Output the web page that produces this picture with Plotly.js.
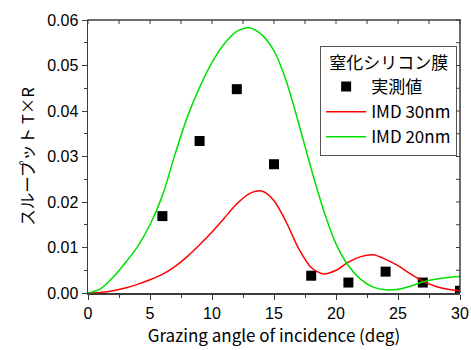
<!DOCTYPE html>
<html>
<head>
<meta charset="utf-8">
<script src="https://cdn.plot.ly/plotly-3.0.1.min.js"></script>
<style>html,body{margin:0;padding:0;background:#fff;}#wrap{position:relative;width:471px;height:350px;}#chart{width:471px;height:350px;}#frame{position:absolute;left:0;top:0;pointer-events:none;}</style>
</head>
<body>
<div id="wrap"><div id="chart"></div><svg id="frame" width="471" height="350" xmlns="http://www.w3.org/2000/svg"></svg></div>
<script>
// Measured data (実測値)
const measX = [6, 9, 12, 15, 18, 21, 24, 27, 30];
const measY = [0.0169, 0.0334, 0.0448, 0.0283, 0.0038, 0.0023, 0.0047, 0.0023, 0.0005];

// Simulation curves
const angle = [0,1,2,3,4,5,6,7,8,9,10,11,12,13,14,15,16,17,18,19,20,21,22,23,24,25,26,27,28,29,30];
const imd30 = [0,0.0001,0.0005,0.0011,0.0019,0.0029,0.0041,0.0058,0.0080,0.0106,0.0134,0.0165,0.0196,0.0218,0.0224,0.0203,0.0155,0.0097,0.0056,0.0042,0.0050,0.0068,0.0080,0.0084,0.0074,0.0060,0.0042,0.0026,0.0015,0.0008,0.0005];
const imd20 = [0,0.0009,0.0034,0.0066,0.0102,0.0150,0.0214,0.0303,0.0386,0.0452,0.0507,0.0548,0.0575,0.0583,0.0568,0.0532,0.0465,0.0372,0.0273,0.0182,0.0108,0.0060,0.0030,0.0013,0.0007,0.0008,0.0015,0.0024,0.0030,0.0034,0.0036];

// frame tick values (top / right, pointing inward)
const topTicks = [0, 2.5, 5, 7.5, 10, 12.5, 15, 17.5, 20, 22.5, 25, 27.5, 30];
const rightTicks = [0, 0.005, 0.01, 0.015, 0.02, 0.025, 0.03, 0.035, 0.04, 0.045, 0.05, 0.055, 0.06];

const xTitle = "Grazing angle of incidence (deg)";
const yTitle = "スループット T×R";
const legendTitle = "窒化シリコン膜";
const names = ["実測値", "IMD 30nm", "IMD 20nm"];

const jp = '"Noto Sans CJK JP", "Noto Sans", sans-serif';
const num = 'Arial, "Liberation Sans", sans-serif';
const axCol = '#3c3c3c';

const traces = [
  {x: measX, y: measY, type: 'scatter', mode: 'markers', name: names[0],
   marker: {symbol: 'square', size: 10, color: '#000'}},
  {x: angle, y: imd30, type: 'scatter', mode: 'lines', name: names[1],
   line: {color: '#ff0000', width: 1.5, shape: 'spline', smoothing: 0.8}},
  {x: angle, y: imd20, type: 'scatter', mode: 'lines', name: names[2],
   line: {color: '#00e000', width: 1.5, shape: 'spline', smoothing: 0.8}}
];

const layout = {
  width: 471, height: 350,
  margin: {l: 88, r: 11, t: 20, b: 57},
  paper_bgcolor: '#fff', plot_bgcolor: '#fff',
  showlegend: true,
  legend: {
    x: 0.624, y: 0.905, xanchor: 'left', yanchor: 'top',
    bgcolor: '#fff', bordercolor: '#555', borderwidth: 1,
    font: {family: jp, size: 17, color: '#000'},
    title: {text: legendTitle, side: 'top center', font: {family: jp, size: 17, color: '#000'}},
    tracegroupgap: 0, itemwidth: 40
  },
  xaxis: {
    range: [0, 30], dtick: 5, tick0: 0,
    ticks: 'outside', ticklen: 5, tickwidth: 1, tickcolor: axCol,
    minor: {dtick: 2.5, ticks: 'outside', ticklen: 3, tickcolor: axCol},
    showline: true, linecolor: axCol, linewidth: 1.5,
    showgrid: false, zeroline: false,
    tickfont: {family: num, size: 16, color: '#000'},
    title: {text: xTitle, font: {family: jp, size: 17, color: '#000'}, standoff: 8}
  },
  yaxis: {
    range: [0, 0.06], dtick: 0.01, tick0: 0, tickformat: '.2f',
    ticks: 'outside', ticklen: 5, tickwidth: 1, tickcolor: axCol,
    minor: {dtick: 0.005, ticks: 'outside', ticklen: 3, tickcolor: axCol},
    showline: true, linecolor: axCol, linewidth: 1.5,
    showgrid: false, zeroline: false,
    tickfont: {family: num, size: 16, color: '#000'},
    title: {text: yTitle, font: {family: jp, size: 16.5, color: '#000'}, standoff: 8}
  }
};

Plotly.newPlot('chart', traces, layout, {displayModeBar: false, staticPlot: true}).then(gd => {
  const fl = gd._fullLayout, s = fl._size;
  const xa = fl.xaxis, ya = fl.yaxis;
  const L = s.l, T = s.t, R = s.l + s.w, B = s.t + s.h;
  const svg = document.getElementById('frame');
  const NS = 'http://www.w3.org/2000/svg';
  function line(x1, y1, x2, y2, w) {
    const el = document.createElementNS(NS, 'line');
    el.setAttribute('x1', x1); el.setAttribute('y1', y1);
    el.setAttribute('x2', x2); el.setAttribute('y2', y2);
    el.setAttribute('stroke', axCol); el.setAttribute('stroke-width', w);
    svg.appendChild(el);
  }
  // top and right frame lines
  line(L - 0.75, T, R + 0.75, T, 1.5);
  line(R, T, R, B, 1.5);
  // inward ticks on the top and right, placed through the axes' own scales
  topTicks.forEach(v => { const px = L + xa.l2p(v); line(px, T, px, T + 4, 1); });
  rightTicks.forEach(v => { const py = T + ya.l2p(v); line(R, py, R - 4, py, 1); });
  // keep the legend on top of the frame
  const leg = gd.querySelector('.legend');
  if (leg) {
    const r = leg.getBoundingClientRect(), w = gd.getBoundingClientRect();
    const rect = document.createElementNS(NS, 'rect');
    rect.setAttribute('x', r.left - w.left); rect.setAttribute('y', r.top - w.top);
    rect.setAttribute('width', r.width); rect.setAttribute('height', r.height);
    rect.setAttribute('fill', 'none');
    svg.insertBefore(rect, svg.firstChild);
    // hide frame portions under the legend by masking with a white clone area
    const mask = document.createElementNS(NS, 'rect');
    mask.setAttribute('x', r.left - w.left + 1); mask.setAttribute('y', r.top - w.top + 1);
    mask.setAttribute('width', Math.max(0, r.width - 2)); mask.setAttribute('height', Math.max(0, r.height - 2));
    mask.setAttribute('fill', 'none');
    svg.appendChild(mask);
  }
});
</script>
</body>
</html>
